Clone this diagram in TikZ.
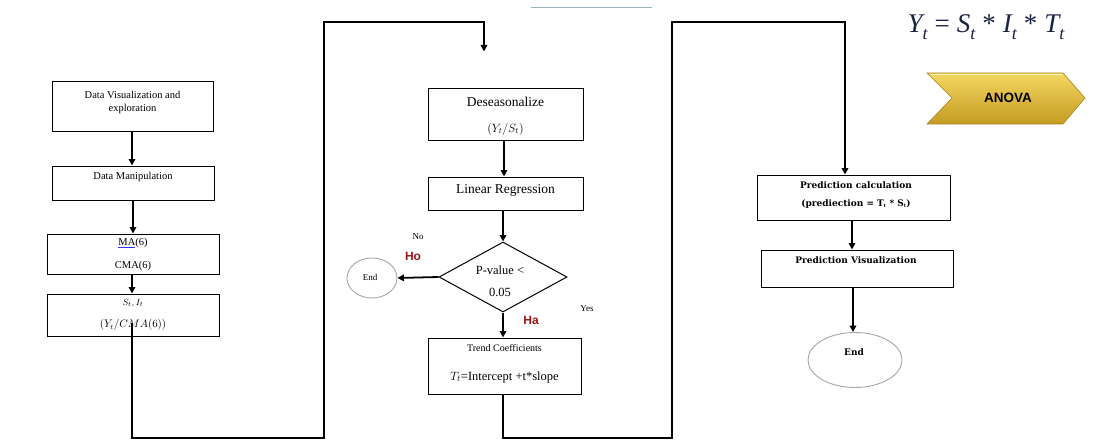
\documentclass[tikz,border=0pt]{standalone}
\usepackage{fontspec}
\setmainfont{Liberation Serif}
\newfontfamily\arialf{Liberation Sans}
\newfontfamily\dvserif{DejaVu Serif}
\usetikzlibrary{arrows.meta,shapes.geometric,calc}
\definecolor{hored}{RGB}{160,20,20}
\definecolor{navy}{RGB}{28,35,64}
\definecolor{goldtop}{RGB}{244,214,96}
\definecolor{goldbot}{RGB}{196,156,36}
\definecolor{goldedge}{RGB}{170,130,30}
\newcommand{\fsub}[1]{\raisebox{-0.25em}{\fontsize{18}{20}\selectfont #1}}
\newcommand{\fop}[1]{\hspace{7pt}{\upshape #1}\hspace{7pt}}
\begin{document}
\begin{tikzpicture}[x=1pt,y=-1pt,
  box/.style={draw=black,line width=1pt,inner sep=0pt,fill=white},
  txt/.style={inner sep=0pt,align=center,font=\fontsize{10.5}{13}\selectfont},
  conn/.style={line width=1.8pt,draw=black},
  arr/.style={conn,-{Triangle[length=6.5pt,width=6.5pt]}},
  endell/.style={draw=gray!70,line width=0.9pt,ellipse,inner sep=0pt,fill=white},
  redlab/.style={inner sep=0pt,text=hored,font=\arialf\bfseries\fontsize{12}{14}\selectfont},
  small/.style={inner sep=0pt,font=\fontsize{9}{11}\selectfont},
  predtxt/.style={inner sep=0pt,align=center,font=\dvserif\bfseries\fontsize{9}{11}\selectfont}]
\useasboundingbox (0,0) rectangle (1105,441);
\fill[white] (0,0) rectangle (1105,441);

% faint line at top
\draw[line width=0.8pt,color={rgb,255:red,150;green,178;blue,186}] (531,7) -- (652,7);

% left column
\node[box,minimum width=161,minimum height=50] (b1) at (132.5,107) {};
\node[txt] (t1) at (132.5,102) {Data Visualization and\\exploration};
\node[box,minimum width=162,minimum height=34] (b2) at (133,183) {};
\node[txt] (t2) at (133,177) {Data Manipulation};
\node[box,minimum width=172,minimum height=40] (b3) at (133,254) {};
\node[txt] (t3a) at (133,243) {{\color{blue!80}\underline{\textcolor{black}{MA}}}(6)};
\node[txt] (t3b) at (133,266) {CMA(6)};
\node[box,minimum width=172,minimum height=42] (b4) at (133,315) {};
\node[txt,font=\fontsize{9.5}{11}\selectfont] (t4a) at (133,303) {$S_t,I_t$};
\node[txt] (t4b) at (133,325) {$(Y_t/CMA(6))$};

% middle column
\node[box,minimum width=155,minimum height=51] (ds) at (505.5,114.5) {};
\node[txt,font=\fontsize{13.5}{16}\selectfont] (tds) at (505.5,102) {Deseasonalize};
\node[txt,font=\fontsize{11.5}{13}\selectfont] (tds2) at (505.5,129) {$(Y_t/S_t)$};
\node[box,minimum width=155,minimum height=33] (lr) at (505.5,193.5) {};
\node[txt,font=\fontsize{13.5}{16}\selectfont] (tlr) at (505.5,190) {Linear Regression};
\node[box,diamond,minimum width=128,minimum height=70] (dm) at (503,277) {};
\node[txt,font=\fontsize{12.5}{15}\selectfont] (tdm1) at (500,270) {P-value <};
\node[txt,font=\fontsize{12.5}{15}\selectfont] (tdm2) at (500,292) {0.05};
\node[endell,minimum width=50,minimum height=40] (e1) at (372,278) {};
\node[small] (te1) at (370,277) {End};
\node[box,minimum width=153,minimum height=56] (tr) at (504.5,366) {};
\node[txt,font=\fontsize{10}{12}\selectfont] (ttr1) at (504.5,348) {Trend Coefficients};
\node[txt,font=\fontsize{12.5}{15}\selectfont] (ttr2) at (504.5,377) {$T_t$=Intercept +t*slope};

\node[small] (no) at (418,237) {No};
\node[redlab] (ho) at (413,256) {Ho};
\node[small] (yes) at (587,309) {Yes};
\node[redlab] (ha) at (531,320) {Ha};

% right column
\node[box,minimum width=193,minimum height=45] (pc) at (853.5,197.5) {};
\node[predtxt] (tpc1) at (856,185) {Prediction calculation};
\node[predtxt] (tpc2) at (856,204) {(prediection = T$_{\mathbf t}$ * S$_{\mathbf t}$)};
\node[box,minimum width=192,minimum height=37] (pv) at (857,268.5) {};
\node[predtxt] (tpv) at (856,260) {Prediction Visualization};
\node[endell,minimum width=94,minimum height=55] (e2) at (855,360) {};
\node[predtxt] (te2) at (854,352) {End};

% connectors
\draw[arr] (b1.south -| 132,0) -- (b2.north -| 132,0);
\draw[arr] (b2.south) -- (b3.north);
\draw[arr] (b3.south -| 132,0) -- (b4.north -| 132,0);
\draw[arr] ([xshift=-1pt,yshift=-8pt]b4.center) -- (132,438) -- (324,438) -- (324,22) -- (484,22) -- ([xshift=-21.5pt,yshift=37pt]ds.north);
\draw[arr] (ds.south -| 504,0) -- (lr.north -| 504,0);
\draw[arr] (lr.south -| 503,0) -- (dm.north);
\draw[arr] (dm.west) -- (e1.east);
\draw[arr] (dm.south) -- (tr.north -| 503,0);
\draw[arr] (tr.south -| 503,0) -- (503,438) -- (672,438) -- (672,22) -- (845,22) -- ([xshift=-8.5pt]pc.north);
\draw[arr] (pc.south -| 852,0) -- (pv.north -| 852,0);
\draw[arr] (pv.south -| 853,0) -- (e2.north -| 853,0);

% formula
\node[inner sep=0pt,text=navy,font=\itshape\fontsize{27}{30}\selectfont] (fm) at (986,27) {Y\fsub{t}\fop{=}S\fsub{t}\fop{*}I\fsub{t}\fop{*}T\fsub{t}};

% ANOVA chevron
\shade[top color=goldtop,bottom color=goldbot,draw=goldedge,line width=0.6pt]
  (927,73) -- (1063,73) -- (1085,98) -- (1063,124) -- (927,124) -- (952,98) -- cycle;
\draw[white!85!yellow,line width=1pt,opacity=0.8] (931,75) -- (1062,75);
\node[inner sep=0pt,font=\arialf\bfseries\fontsize{13.5}{16}\selectfont] (anova) at (1008,98) {ANOVA};
\end{tikzpicture}
\end{document}
